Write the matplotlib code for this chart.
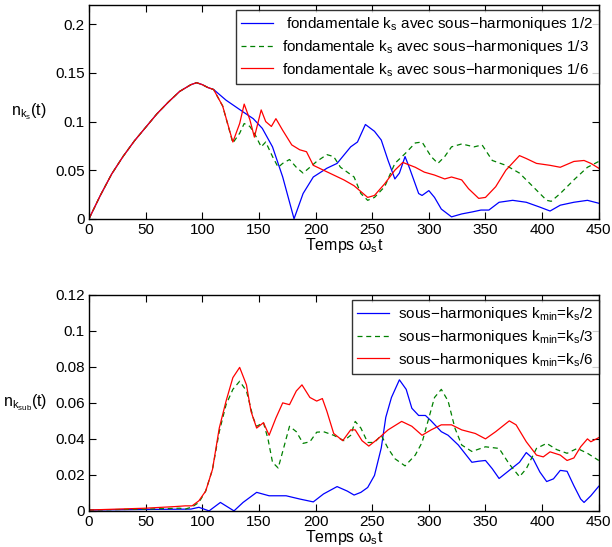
import matplotlib
matplotlib.use("Agg")
import matplotlib.pyplot as plt
from matplotlib.ticker import FuncFormatter

plt.rcParams['font.family'] = ['Liberation Sans', 'DejaVu Sans']
plt.rcParams['mathtext.fontset'] = 'custom'
plt.rcParams['mathtext.rm'] = 'Liberation Sans'
plt.rcParams['mathtext.it'] = 'Liberation Sans'

# ---- top panel: n_ks(t) ----
t_rise = [0, 10, 20, 30, 40, 50, 60, 70, 80, 90, 95, 100, 105, 110]
n_rise = [0.0, 0.024, 0.046, 0.064, 0.080, 0.094, 0.108, 0.120, 0.131, 0.138, 0.140, 0.138, 0.135, 0.133]

t_top_half = [121, 136, 145, 153, 162, 171, 181, 189, 198, 210, 219, 231, 237, 244, 252, 258, 264,
              270, 274, 279, 283, 291, 294, 300, 305, 311, 320, 329, 338, 346, 353, 362, 374, 386,
              398, 407, 416, 428, 440, 450]
n_top_half = [0.122, 0.110, 0.103, 0.093, 0.074, 0.043, 0.0, 0.026, 0.043, 0.052, 0.057, 0.074, 0.079,
              0.097, 0.090, 0.081, 0.060, 0.041, 0.047, 0.064, 0.052, 0.026, 0.024, 0.029, 0.022, 0.010,
              0.002, 0.005, 0.007, 0.009, 0.009, 0.017, 0.019, 0.017, 0.012, 0.008, 0.014, 0.017,
              0.019, 0.016]

t_top_third = [118, 127, 133, 137, 142, 146, 152, 156, 162, 167, 171, 177, 183, 189, 195, 201, 210,
               216, 222, 228, 234, 240, 246, 252, 261, 270, 279, 288, 294, 302, 308, 314, 320, 329,
               340, 347, 356, 368, 380, 392, 404, 408, 416, 428, 440, 450]
n_top_third = [0.116, 0.078, 0.088, 0.098, 0.095, 0.088, 0.074, 0.079, 0.064, 0.053, 0.057, 0.061,
               0.053, 0.047, 0.053, 0.059, 0.066, 0.064, 0.053, 0.048, 0.043, 0.026, 0.019, 0.022,
               0.033, 0.057, 0.067, 0.078, 0.079, 0.064, 0.057, 0.064, 0.074, 0.077, 0.074, 0.076,
               0.060, 0.055, 0.047, 0.033, 0.019, 0.018, 0.026, 0.040, 0.053, 0.059]

t_top_sixth = [118, 127, 133, 137, 142, 146, 152, 156, 161, 165, 171, 179, 186, 192, 198, 207, 216,
               225, 234, 240, 246, 252, 261, 270, 277, 288, 296, 305, 314, 320, 329, 335, 344, 350,
               359, 368, 380, 386, 395, 407, 416, 428, 437, 443, 450]
n_top_sixth = [0.116, 0.079, 0.098, 0.118, 0.102, 0.084, 0.112, 0.100, 0.095, 0.103, 0.091, 0.076,
               0.071, 0.069, 0.055, 0.050, 0.045, 0.040, 0.034, 0.028, 0.022, 0.024, 0.036, 0.050,
               0.058, 0.053, 0.048, 0.045, 0.041, 0.043, 0.040, 0.031, 0.021, 0.022, 0.033, 0.050,
               0.065, 0.062, 0.057, 0.055, 0.053, 0.059, 0.060, 0.057, 0.052]

# ---- bottom panel: n_ksub(t) ----
t_sub_half = [0, 50, 90, 97, 106, 116, 128, 136, 148, 159, 174, 186, 198, 207, 219, 228, 234, 240,
              246, 252, 258, 262, 267, 274, 280, 285, 291, 297, 302, 311, 317, 326, 338, 344, 350,
              356, 362, 371, 380, 386, 392, 398, 404, 410, 416, 422, 428, 434, 437, 443, 450]
n_sub_half = [0.0005, 0.0008, 0.001, 0.002, 0.0, 0.0047, 0.0, 0.0047, 0.0103, 0.0084, 0.0084, 0.0066,
              0.005, 0.0094, 0.0135, 0.011, 0.0088, 0.0103, 0.013, 0.0197, 0.035, 0.052, 0.063,
              0.0728, 0.0675, 0.057, 0.053, 0.053, 0.050, 0.044, 0.042, 0.0366, 0.027, 0.0276, 0.028,
              0.0234, 0.018, 0.0225, 0.027, 0.0324, 0.029, 0.0216, 0.0163, 0.0178, 0.0225, 0.022,
              0.014, 0.0066, 0.0047, 0.0084, 0.0137]

t_sub_third = [0, 50, 80, 85, 91, 97, 103, 109, 115, 121, 127, 133, 139, 145, 148, 154, 158, 162,
               167, 171, 177, 183, 189, 195, 201, 207, 216, 225, 231, 235, 240, 246, 252, 258, 264,
               270, 279, 288, 294, 300, 305, 311, 317, 323, 329, 338, 350, 362, 371, 380, 386, 395,
               404, 413, 422, 431, 440, 450]
n_sub_third = [0.0005, 0.001, 0.0015, 0.001, 0.0022, 0.0047, 0.011, 0.023, 0.044, 0.059, 0.0675,
               0.072, 0.0666, 0.0516, 0.047, 0.049, 0.040, 0.027, 0.0238, 0.033, 0.047, 0.044,
               0.0375, 0.0384, 0.0437, 0.044, 0.042, 0.039, 0.042, 0.0497, 0.046, 0.038, 0.038,
               0.042, 0.0347, 0.029, 0.025, 0.031, 0.038, 0.0516, 0.063, 0.0675, 0.061, 0.046,
               0.0366, 0.033, 0.0356, 0.0347, 0.026, 0.019, 0.0234, 0.0347, 0.0375, 0.034, 0.032,
               0.0347, 0.032, 0.028]

t_sub_sixth = [0, 50, 76, 85, 91, 97, 103, 109, 115, 121, 127, 133, 139, 143, 148, 154, 159, 165,
               171, 177, 183, 188, 195, 201, 206, 210, 216, 224, 231, 235, 241, 247, 255, 264, 276,
               285, 294, 302, 311, 320, 329, 341, 350, 359, 371, 377, 386, 395, 401, 407, 416, 422,
               428, 434, 440, 443, 450]
n_sub_sixth = [0.0005, 0.0015, 0.0024, 0.0028, 0.0028, 0.0056, 0.011, 0.023, 0.046, 0.061, 0.074,
               0.0797, 0.070, 0.0553, 0.046, 0.049, 0.042, 0.0516, 0.060, 0.059, 0.0666, 0.070,
               0.063, 0.061, 0.0624, 0.0553, 0.043, 0.039, 0.045, 0.045, 0.039, 0.036, 0.040, 0.045,
               0.0497, 0.047, 0.042, 0.045, 0.0478, 0.0478, 0.045, 0.043, 0.040, 0.044, 0.050,
               0.0478, 0.0384, 0.031, 0.030, 0.0328, 0.031, 0.028, 0.0294, 0.0356, 0.040, 0.0384,
               0.0407]

labels_top = [r' fondamentale k$_{\rm s}$ avec sous$-$harmoniques 1/2',
              r'fondamentale k$_{\rm s}$ avec sous$-$harmoniques 1/3',
              r'fondamentale k$_{\rm s}$ avec sous$-$harmoniques 1/6']
labels_bottom = [r'sous$-$harmoniques k$_{\rm min}$=k$_{\rm s}$/2',
                 r'sous$-$harmoniques k$_{\rm min}$=k$_{\rm s}$/3',
                 r'sous$-$harmoniques k$_{\rm min}$=k$_{\rm s}$/6']

BLUE, GREEN, RED = '#0000ff', '#008000', '#ff0000'
FS = 11


def style_axes(ax, ymax, ystep, ylabel):
    ax.set_xlim(0, 450)
    ax.set_ylim(0, ymax)
    ax.set_xticks(range(0, 451, 50))
    n = int(round(ymax / ystep))
    ax.set_yticks([i * ystep for i in range(n + 1)])
    ax.yaxis.set_major_formatter(FuncFormatter(lambda v, pos: f'{v:g}'))
    ax.tick_params(direction='in', top=True, right=True, length=5, width=0.8,
                   labelsize=FS, pad=3)
    for sp in ax.spines.values():
        sp.set_linewidth(1.0)
    ax.set_xlabel(r'Temps ω$_{\rm s}$t', fontsize=FS + 0.5, labelpad=-1)
    ax.set_ylabel(ylabel, fontsize=FS + 0.5, rotation=0, ha='right', va='center', labelpad=6)


fig = plt.figure(figsize=(6.12, 5.47), dpi=100)
ax1 = fig.add_axes([0.1454, 0.600, 0.833, 0.391])
ax2 = fig.add_axes([0.1454, 0.066, 0.833, 0.395])

lw = 0.9
ax1.plot(t_rise + t_top_half, n_rise + n_top_half, color=BLUE, lw=lw, label=labels_top[0])
ax1.plot(t_rise + t_top_third, n_rise + n_top_third, color=GREEN, lw=lw, ls=(0, (4, 3)),
         label=labels_top[1])
ax1.plot(t_rise + t_top_sixth, n_rise + n_top_sixth, color=RED, lw=lw, label=labels_top[2])
style_axes(ax1, 0.22, 0.05, r'n$_{\rm k_{s}}$(t)')
ax1.set_yticks([0, 0.05, 0.1, 0.15, 0.2])

ax2.plot(t_sub_half, n_sub_half, color=BLUE, lw=lw, label=labels_bottom[0])
ax2.plot(t_sub_third, n_sub_third, color=GREEN, lw=lw, ls=(0, (4, 3)), label=labels_bottom[1])
ax2.plot(t_sub_sixth, n_sub_sixth, color=RED, lw=lw, label=labels_bottom[2])
style_axes(ax2, 0.12, 0.02, r'n$_{\rm k_{sub}}$(t)')

for ax in (ax1, ax2):
    leg = ax.legend(loc='upper right', bbox_to_anchor=(1.0, 0.976), fontsize=FS, frameon=True,
                    fancybox=False, borderaxespad=0, handlelength=2.1, labelspacing=0.3,
                    borderpad=0.35, handletextpad=0.6)
    leg.get_frame().set_edgecolor('black')
    leg.get_frame().set_linewidth(1.0)

fig.savefig('out.png', dpi=100)
